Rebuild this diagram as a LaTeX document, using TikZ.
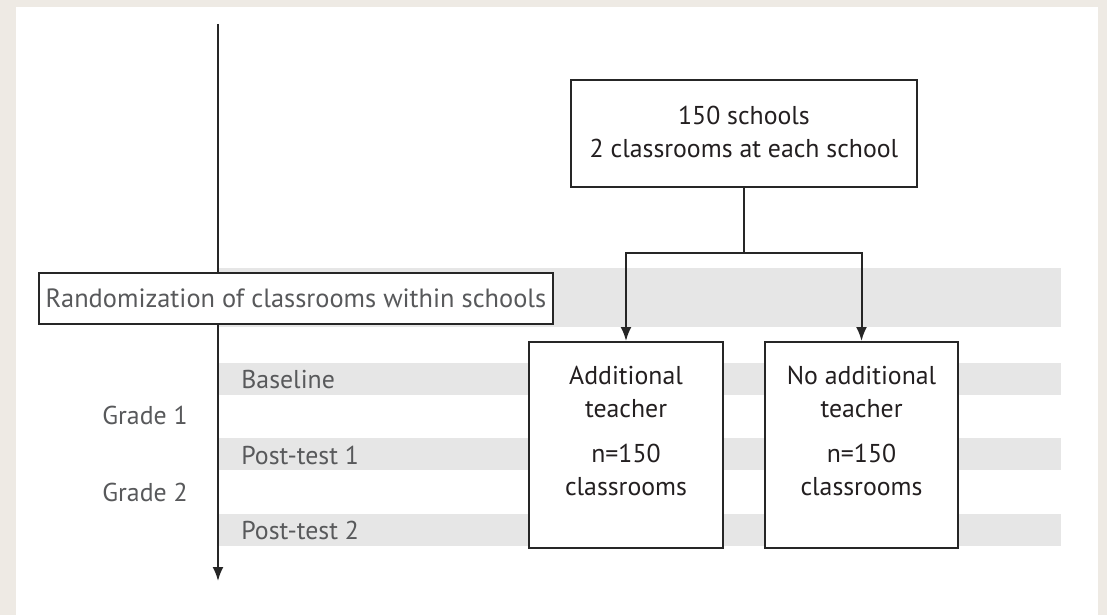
\documentclass[tikz,border=0pt]{standalone}
\usepackage{fontspec}
\setmainfont{PT Sans}
\usetikzlibrary{arrows.meta}
\definecolor{framebg}{HTML}{EEEAE4}
\definecolor{band}{HTML}{E6E6E6}
\definecolor{labelgray}{HTML}{58595B}
\definecolor{boxtext}{HTML}{231F20}

\begin{document}
\begin{tikzpicture}[x=0.5pt,y=-0.5pt,
	box/.style={draw=black!85,line width=1pt,fill=white,inner sep=0pt},
	boxtxt/.style={text=boxtext,align=center,inner sep=0pt,font=\fontsize{12.9}{16.5}\selectfont},
	lbl/.style={text=labelgray,anchor=west,inner sep=0pt,font=\fontsize{12.9}{14}\selectfont},
	link/.style={line width=1pt,draw=black!85},
	arr/.style={link,-{Latex[length=7pt,width=5.5pt]}}]

	% frame
	\fill[framebg] (0,0) rectangle (1107,615);
	\fill[white] (16,7) rectangle (1098,615);

	% bands
	\fill[band] (218,268) rectangle (1061,327); % randomization
	\fill[band] (218,363) rectangle (1061,395); % baseline
	\fill[band] (218,438) rectangle (1061,470); % post-test 1
	\fill[band] (218,514) rectangle (1061,546); % post-test 2

	% time line
	\coordinate (ttop) at (218,24);
	\coordinate (tend) at (218,581);
	\draw[arr] (ttop) -- (tend);

	% randomization
	\node[box,minimum width=257pt,minimum height=25.5pt,text=labelgray,font=\fontsize{13.2}{14}\selectfont] (rand) at (296,298.5) {Randomization of classrooms within schools};

	% time labels
	\node[lbl] (base) at (241,380) {Baseline};
	\node[lbl] (post1) at (241,455) {Post-test 1};
	\node[lbl] (post2) at (241,530) {Post-test 2};
	\node[lbl] (grade1) at (102,415) {Grade 1};
	\node[lbl] (grade2) at (102,492) {Grade 2};

	% boxes
	\node[box,minimum width=173pt,minimum height=53.5pt] (schools) at (744,133.5) {};
	\node[boxtxt] (schoolstxt) at (744,132) {150 schools\\2 classrooms at each school};

	\node[box,minimum width=97pt,minimum height=103pt] (treat) at (626,445) {};
	\node[boxtxt] (treattop) at (626,391.5) {Additional\\teacher};
	\node[boxtxt] (treatbot) at (626,470) {n=150\\classrooms};

	\node[box,minimum width=96.5pt,minimum height=103pt] (ctrl) at (861.5,445) {};
	\node[boxtxt] (ctrltop) at (861.5,391.5) {No additional\\teacher};
	\node[boxtxt] (ctrlbot) at (861.5,470) {n=150\\classrooms};

	% links
	\coordinate (split) at (744,253);
	\draw[link] (schools.south) -- (split);
	\draw[arr] (split) -| (treat.north);
	\draw[arr] (split) -| (ctrl.north);

\end{tikzpicture}
\end{document}
